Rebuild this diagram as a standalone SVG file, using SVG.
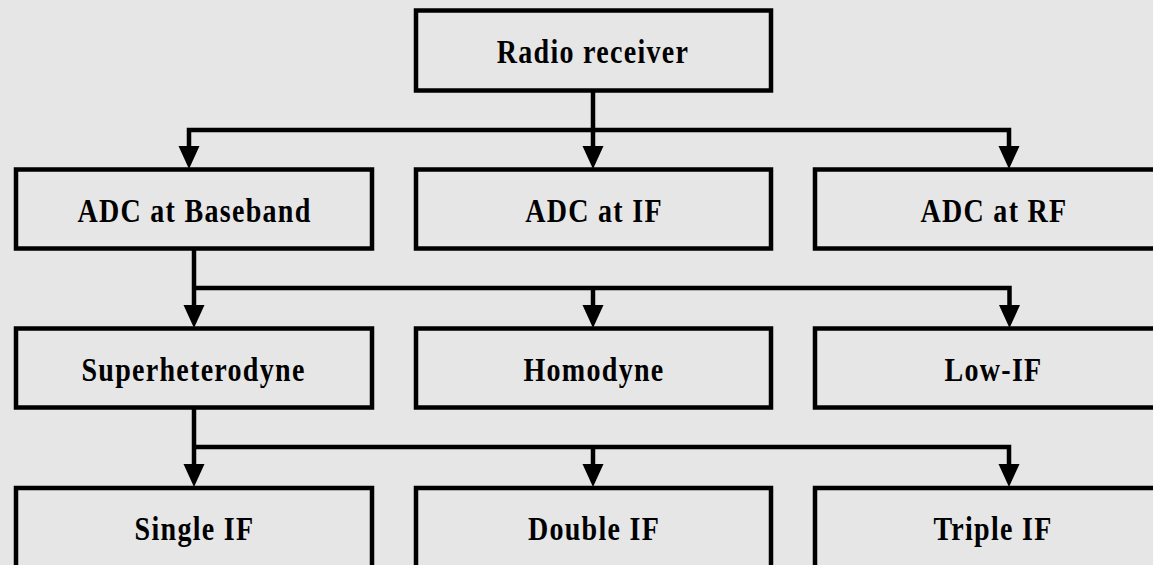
<svg xmlns="http://www.w3.org/2000/svg" width="1153" height="565" viewBox="0 0 1153 565">
<defs>
<style>
.box{fill:#e6e6e6;stroke:#000;stroke-width:4.5}
.lbl{font-family:"Liberation Serif","Times New Roman",serif;font-weight:bold;font-size:33px;letter-spacing:1.5px;fill:#000;text-anchor:middle}
.con{fill:none;stroke:#000;stroke-width:4.5;stroke-linejoin:miter}
</style>
<path id="ah" d="M-10.5,-23 L10.5,-23 L0,0 Z" fill="#000"/>
</defs>
<rect x="0" y="0" width="1153" height="565" fill="#e6e6e6"/>
<g id="connectors">
<path class="con" d="M593,90 V148"/>
<path class="con" d="M189,148 V130 H1009 V148"/>
<use href="#ah" x="189" y="169"/>
<use href="#ah" x="593" y="169"/>
<use href="#ah" x="1009" y="169"/>
<path class="con" d="M194,248 V307"/>
<path class="con" d="M194,288 H1009.5 V307"/>
<path class="con" d="M593,288 V307"/>
<use href="#ah" x="194" y="328"/>
<use href="#ah" x="593" y="328"/>
<use href="#ah" x="1009.5" y="328"/>
<path class="con" d="M194,407 V466"/>
<path class="con" d="M194,447 H1009 V466"/>
<path class="con" d="M593,447 V466"/>
<use href="#ah" x="194" y="487"/>
<use href="#ah" x="593" y="487"/>
<use href="#ah" x="1009" y="487"/>
</g>
<g id="radio-receiver"><rect class="box" x="416" y="10.5" width="355" height="80"/><text class="lbl" transform="translate(593,63) scale(0.85,1)">Radio receiver</text></g>
<g id="adc-baseband"><rect class="box" x="16" y="169.5" width="356" height="79"/><text class="lbl" transform="translate(194.5,222) scale(0.85,1)">ADC at Baseband</text></g>
<g id="adc-if"><rect class="box" x="416" y="169.5" width="355" height="79"/><text class="lbl" transform="translate(594,222) scale(0.85,1)">ADC at IF</text></g>
<g id="adc-rf"><rect class="box" x="815" y="169.5" width="360" height="79"/><text class="lbl" transform="translate(994,222) scale(0.85,1)">ADC at RF</text></g>
<g id="superheterodyne"><rect class="box" x="16" y="328.5" width="356" height="79"/><text class="lbl" transform="translate(193.5,381) scale(0.85,1)">Superheterodyne</text></g>
<g id="homodyne"><rect class="box" x="416" y="328.5" width="355" height="79"/><text class="lbl" transform="translate(594,381) scale(0.85,1)">Homodyne</text></g>
<g id="low-if"><rect class="box" x="815" y="328.5" width="360" height="79"/><text class="lbl" transform="translate(993.5,381) scale(0.85,1)">Low-IF</text></g>
<g id="single-if"><rect class="box" x="16" y="488" width="356" height="80"/><text class="lbl" transform="translate(194.5,539.5) scale(0.85,1)">Single IF</text></g>
<g id="double-if"><rect class="box" x="416" y="488" width="355" height="80"/><text class="lbl" transform="translate(594,539.5) scale(0.85,1)">Double IF</text></g>
<g id="triple-if"><rect class="box" x="815" y="488" width="360" height="80"/><text class="lbl" transform="translate(993,539.5) scale(0.85,1)">Triple IF</text></g>
</svg>
